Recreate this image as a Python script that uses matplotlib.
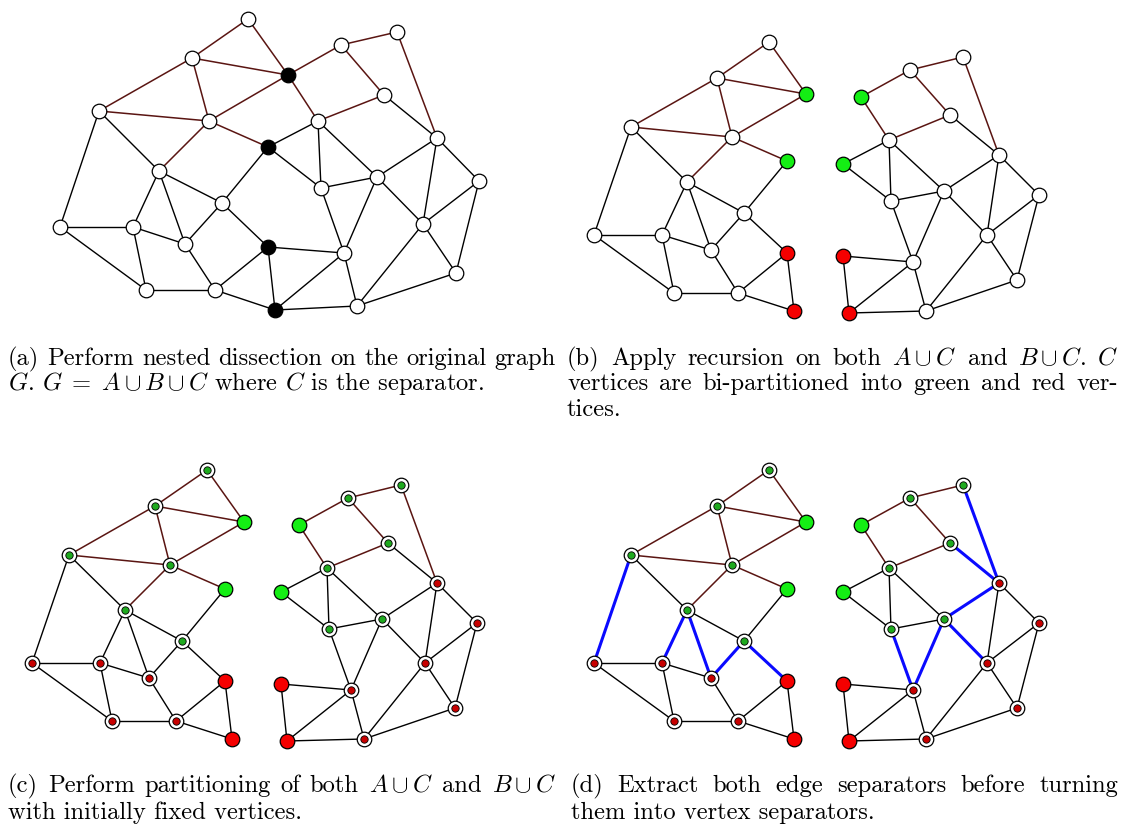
import matplotlib
matplotlib.use("Agg")
import matplotlib.pyplot as plt

W, H, DPI = 1121, 828, 100

# ---------------- data: original graph G (panel a) ----------------
G_NAMES = ["N1", "N2", "N3", "N4", "N5", "N6", "N7", "N8", "N9", "N10", "N11", "N12", "N13", "N14",
           "N15", "N16", "N17", "N18", "N19", "N20", "N21", "N22", "N24", "N25", "N26", "N27", "N28"]
G_X = [248, 192, 288, 99, 209, 268, 159, 341, 397, 384, 318, 437, 222, 60,
       133, 185, 268, 146, 215, 275, 321, 377, 479, 423, 344, 456, 357]
G_Y = [20, 59, 76, 112, 122, 148, 172, 46, 33, 96, 122, 139, 204, 228,
       228, 245, 248, 291, 291, 311, 189, 178, 182, 225, 254, 274, 307]

SEPARATOR = ["N3", "N6", "N17", "N20"]
PART_A = ["N1", "N2", "N4", "N5", "N7", "N13", "N14", "N15", "N16", "N18", "N19"]

EDGES_DARK = [("N1", "N2"), ("N1", "N3"), ("N2", "N3"), ("N2", "N4"), ("N2", "N5"), ("N4", "N5"),
              ("N5", "N3"), ("N5", "N6"), ("N5", "N7"), ("N3", "N8"), ("N8", "N9"), ("N8", "N10"),
              ("N9", "N12"), ("N3", "N11"), ("N11", "N10")]
EDGES_BLACK = [("N4", "N14"), ("N4", "N7"), ("N6", "N11"), ("N6", "N13"), ("N6", "N21"), ("N10", "N12"),
               ("N11", "N21"), ("N11", "N22"), ("N12", "N22"), ("N12", "N25"), ("N12", "N24"),
               ("N7", "N15"), ("N7", "N16"), ("N7", "N13"), ("N13", "N16"), ("N13", "N17"),
               ("N14", "N15"), ("N14", "N18"), ("N15", "N16"), ("N15", "N18"), ("N16", "N19"),
               ("N18", "N19"), ("N19", "N17"), ("N19", "N20"), ("N17", "N20"), ("N17", "N26"),
               ("N20", "N26"), ("N20", "N28"), ("N21", "N22"), ("N21", "N26"), ("N22", "N26"),
               ("N22", "N25"), ("N24", "N25"), ("N24", "N27"), ("N25", "N27"), ("N25", "N28"),
               ("N26", "N28"), ("N27", "N28")]

# ---------------- data: split layout (panels b, c, d) ----------------
SPLIT_A_NAMES = ["N1", "N2", "N3", "N4", "N5", "N6", "N7", "N13", "N14", "N15", "N16", "N17", "N18", "N19", "N20"]
SPLIT_A_X = [769, 717, 806, 631, 732, 787, 687, 744, 594, 662, 711, 787, 674, 738, 794]
SPLIT_A_Y = [43, 79, 95, 128, 138, 162, 183, 214, 236, 236, 251, 254, 294, 294, 312]

SPLIT_B_NAMES = ["N3", "N6", "N8", "N9", "N10", "N11", "N12", "N17", "N20", "N21", "N22", "N24", "N25", "N26", "N27", "N28"]
SPLIT_B_X = [861, 843, 910, 963, 950, 889, 999, 843, 849, 891, 944, 1039, 987, 913, 1017, 926]
SPLIT_B_Y = [98, 165, 71, 58, 116, 141, 156, 257, 314, 202, 192, 196, 236, 263, 281, 312]

SEP_GREEN = ["N3", "N6"]          # separator bi-partition
SEP_RED = ["N17", "N20"]
PART_GREEN = ["N1", "N2", "N4", "N5", "N7", "N13", "N8", "N9", "N10", "N11", "N21", "N22"]

CAPTIONS = {
    "a": [("(a) Perform nested dissection on the original graph", True),
          (r"$G$. $G\;=\;A\cup B\cup C$ where $C$ is the separator.", False)],
    "b": [(r"(b) Apply recursion on both $A\cup C$ and $B\cup C$. $C$", True),
          ("vertices are bi-partitioned into green and red ver-", True),
          ("tices.", False)],
    "c": [(r"(c) Perform partitioning of both $A\cup C$ and $B\cup C$", True),
          ("with initially fixed vertices.", False)],
    "d": [("(d) Extract both edge separators before turning", True),
          ("them into vertex separators.", False)],
}

# ---------------- style ----------------
DARK = "#5a1512"
GREEN = "#14ee14"
RED = "#f50000"
IN_GREEN = "#1faa1f"
IN_RED = "#c80000"
BLUE = "#0a0aff"
NODE_S = 110
INNER_S = 28

plt.rcParams["font.family"] = ["cmr10"]
plt.rcParams["mathtext.fontset"] = "cm"
plt.rcParams["axes.unicode_minus"] = False

fig = plt.figure(figsize=(W / DPI, H / DPI), dpi=DPI)
fig.patch.set_facecolor("white")


def make_ax(px0, py0, px1, py1, xlim, ylim):
    ax = fig.add_axes([px0 / W, 1 - py1 / H, (px1 - px0) / W, (py1 - py0) / H])
    ax.set_xlim(*xlim)
    ax.set_ylim(*ylim)
    ax.axis("off")
    return ax


def draw_edges(ax, pos, edges, color, lw, z=1):
    for u, v in edges:
        if u in pos and v in pos:
            ax.plot([pos[u][0], pos[v][0]], [pos[u][1], pos[v][1]], color=color, lw=lw,
                    solid_capstyle="round", zorder=z)


# ---- panel a ----
pos_g = {n: (x, y) for n, x, y in zip(G_NAMES, G_X, G_Y)}
axa = make_ax(0, 0, 560, 330, (0, 560), (330, 0))
draw_edges(axa, pos_g, EDGES_DARK, DARK, 1.1)
draw_edges(axa, pos_g, EDGES_BLACK, "black", 1.0)
for n, (x, y) in pos_g.items():
    fc = "black" if n in SEPARATOR else "white"
    axa.scatter([x], [y], s=NODE_S, c=fc, edgecolors="black", linewidths=0.9, zorder=3)

# ---- split panels ----
pos_left = {n: (x, y) for n, x, y in zip(SPLIT_A_NAMES, SPLIT_A_X, SPLIT_A_Y)}
pos_right = {n: (x, y) for n, x, y in zip(SPLIT_B_NAMES, SPLIT_B_X, SPLIT_B_Y)}


def side_color(n):
    return "g" if (n in PART_GREEN or n in SEP_GREEN) else "r"


def draw_split(ax, mode):
    for pos in (pos_left, pos_right):
        cut = []
        for edges, col in ((EDGES_DARK, DARK), (EDGES_BLACK, "black")):
            keep = []
            for u, v in edges:
                if u in pos and v in pos:
                    if mode == "d" and side_color(u) != side_color(v):
                        cut.append((u, v))
                    else:
                        keep.append((u, v))
            draw_edges(ax, pos, keep, col, 1.1 if col == DARK else 1.0)
        draw_edges(ax, pos, cut, BLUE, 2.2, z=2)
        for n, (x, y) in pos.items():
            if n in SEPARATOR:
                fc = GREEN if n in SEP_GREEN else RED
                ax.scatter([x], [y], s=NODE_S, c=fc, edgecolors="black", linewidths=0.9, zorder=3)
            else:
                ax.scatter([x], [y], s=NODE_S, c="white", edgecolors="black", linewidths=0.9, zorder=3)
                if mode in ("c", "d"):
                    ic = IN_GREEN if n in PART_GREEN else IN_RED
                    ax.scatter([x], [y], s=INNER_S, c=ic, edgecolors="black", linewidths=0.6, zorder=4)


axb = make_ax(560, 0, 1121, 330, (560, 1121), (330, 0))
draw_split(axb, "b")
axc = make_ax(-2, 428, 559, 758, (560, 1121), (330, 0))
draw_split(axc, "c")
axd = make_ax(560, 428, 1121, 758, (560, 1121), (330, 0))
draw_split(axd, "d")

# ---------------- captions ----------------
renderer = fig.canvas.get_renderer()
probe = fig.text(0, 0, "with initially fixed vertices.", fontsize=10, transform=None)
w10 = probe.get_window_extent(renderer).width
probe.remove()
FS = 10 * 295.0 / w10


def caption(lines, x0, x1, y0, dy):
    for i, (line, just) in enumerate(lines):
        yb = H - (y0 + i * dy)
        if not just:
            fig.text(x0, yb, line, fontsize=FS, ha="left", va="baseline", transform=None)
            continue
        words = line.split(" ")
        # merge math segments split on spaces
        merged, buf = [], None
        for w in words:
            if buf is not None:
                buf += " " + w
                if buf.count("$") % 2 == 0:
                    merged.append(buf)
                    buf = None
            elif w.count("$") % 2 == 1:
                buf = w
            else:
                merged.append(w)
        ts = [fig.text(0, yb, w, fontsize=FS, ha="left", va="baseline", transform=None) for w in merged]
        widths = [t.get_window_extent(renderer).width for t in ts]
        gap = (x1 - x0 - sum(widths)) / max(len(ts) - 1, 1)
        x = x0
        for t, wd in zip(ts, widths):
            t.set_x(x)
            x += wd + gap


caption(CAPTIONS["a"], 8, 556, 365, 25.5)
caption(CAPTIONS["b"], 567, 1118, 365, 25.5)
caption(CAPTIONS["c"], 8, 556, 792, 27)
caption(CAPTIONS["d"], 571, 1118, 792, 27)

fig.savefig("out.png", dpi=DPI, facecolor="white")
